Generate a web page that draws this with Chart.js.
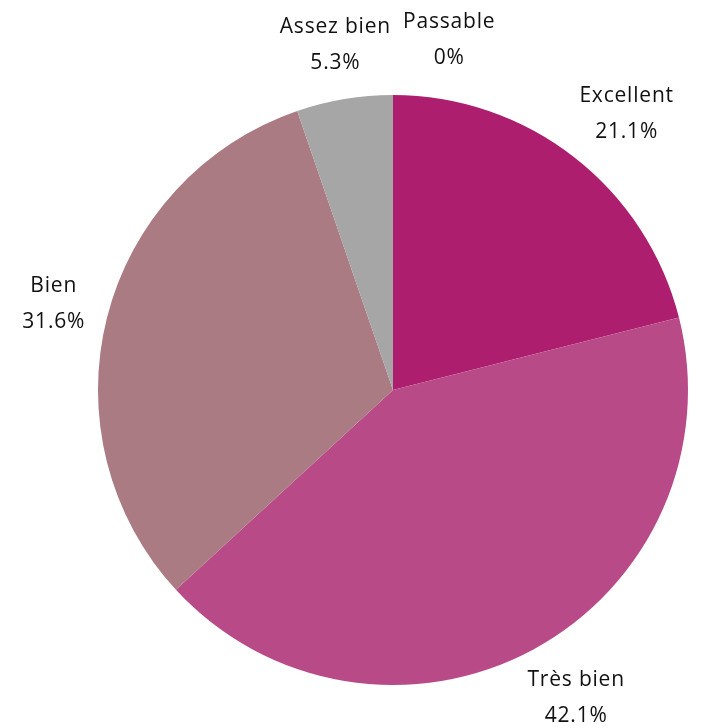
<!DOCTYPE html>
<html>
<head>
<meta charset="utf-8">
<script src="https://cdn.jsdelivr.net/npm/chart.js@4/dist/chart.umd.min.js"></script>
<style>
  html, body { margin: 0; padding: 0; background: #fff; }
  #wrap { width: 716px; height: 728px; }
</style>
</head>
<body>
<div id="wrap"><canvas id="chart" width="716" height="728"></canvas></div>
<script>
// order = clockwise from 12 o'clock
const categories = ["Excellent", "Très bien", "Bien", "Assez bien", "Passable"];
const counts = [4, 8, 6, 1, 0];
const sliceColors = ["#ad1f6e", "#b84a88", "#aa7b83", "#a6a6a6", "#d9d9d9"];

const total = counts.reduce((a, b) => a + b, 0);
const pctText = v => {
  const p = v / total * 100;
  return p === 0 ? "0%" : p.toFixed(1) + "%";
};

// labels outside the pie, two lines: name then percent
const outsideLabels = {
  id: "outsideLabels",
  afterDatasetsDraw(chart) {
    const ctx = chart.ctx;
    const meta = chart.getDatasetMeta(0);
    const fontSize = 21;
    const lineGap = 36;
    ctx.save();
    ctx.font = fontSize + "px 'Open Sans', Lato, sans-serif";
    ctx.letterSpacing = "0.8px";
    ctx.fillStyle = "#111";
    ctx.textAlign = "center";
    ctx.textBaseline = "middle";

    const boxes = [];
    meta.data.forEach((arc, i) => {
      const p = arc.getProps(["x", "y", "startAngle", "endAngle", "outerRadius"], true);
      const mid = (p.startAngle + p.endAngle) / 2;
      const R = p.outerRadius;
      const l1 = categories[i], l2 = pctText(counts[i]);
      const w = Math.max(ctx.measureText(l1).width, ctx.measureText(l2).width);
      const h = lineGap + fontSize;
      const D = R + 55;
      let cx = p.x + D * Math.cos(mid);
      let cy = p.y + D * Math.sin(mid);
      // keep box clear of the pie edge, push sideways
      const clear = R + 15;
      const nearY = Math.abs(cy - p.y) > h / 2 ? Math.abs(cy - p.y) - h / 2 : 0;
      const nearX = Math.abs(cx - p.x) > w / 2 ? Math.abs(cx - p.x) - w / 2 : 0;
      if (Math.hypot(nearX, nearY) < clear && nearY < clear && nearX > 0) {
        const need = Math.sqrt(clear * clear - nearY * nearY);
        cx += Math.sign(cx - p.x) * (need - nearX);
      }
      boxes.push({ cx, cy, w, h, l1, l2 });
    });

    // resolve overlaps between neighbours
    for (let i = 0; i < boxes.length; i++) {
      for (let j = 0; j < i; j++) {
        const a = boxes[j], b = boxes[i];
        const ox = (a.w + b.w) / 2 + 12 - Math.abs(a.cx - b.cx);
        const oy = (a.h + b.h) / 2 - Math.abs(a.cy - b.cy);
        if (ox > 0 && oy > 0) {
          b.cx += (b.cx >= a.cx ? 1 : -1) * ox;
        }
      }
    }

    boxes.forEach(b => {
      ctx.fillText(b.l1, b.cx, b.cy - lineGap / 2);
      ctx.fillText(b.l2, b.cx, b.cy + lineGap / 2);
    });
    ctx.restore();
  }
};

new Chart(document.getElementById("chart").getContext("2d"), {
  type: "pie",
  data: {
    labels: categories,
    datasets: [{
      data: counts,
      backgroundColor: sliceColors,
      borderWidth: 0
    }]
  },
  options: {
    responsive: false,
    animation: false,
    layout: { padding: { left: 98, right: 28, top: 95, bottom: 43 } },
    plugins: {
      legend: { display: false },
      tooltip: { enabled: false }
    }
  },
  plugins: [outsideLabels]
});
</script>
</body>
</html>
